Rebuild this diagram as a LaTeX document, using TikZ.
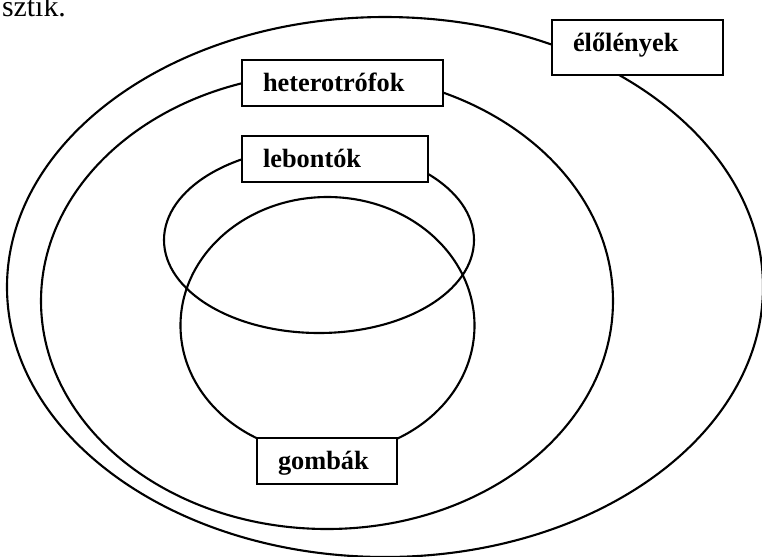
\documentclass[tikz,border=0pt]{standalone}
\usepackage{fontspec}
\setmainfont{Liberation Serif}
\usepackage{tikz}
\tikzset{
  namebox/.style={draw, fill=white, line width=1.2pt, align=left,
    font=\fontsize{15}{18}\selectfont\bfseries,
    text height=0.94em, text depth=0pt,
    inner xsep=0.42cm, minimum height=0.92cm}
}

\begin{document}
\begin{tikzpicture}[x=0.02cm, y=0.02cm, line width=1.2pt]

  \useasboundingbox (0, 0) rectangle (762, -556);

  \node[anchor=base west, inner sep=0, font=\fontsize{17}{20}\selectfont] (sztik) at (1, -16.7) {sztik.};

  % halmazok
  \draw (385, -287) ellipse (378 and 270);
  \draw (327, -301) ellipse (286 and 228);
  \draw (319, -240) ellipse (155 and 93);
  \draw (327.5, -325.5) ellipse (147 and 128.5);

  % feliratok
  \node[namebox, text width=2.58cm, minimum height=1.1cm, text height=0.66em, text depth=0.26em] (elolenyek) at (637.5, -47.5) {élőlények};
  \node[namebox, text width=3.18cm] (heterotrofok) at (342.5, -83) {heterotrófok};
  \node[namebox, text width=2.88cm] (lebontok) at (335, -159) {lebontók};
  \node[namebox, text width=1.96cm] (gombak) at (327, -461) {gombák};

\end{tikzpicture}
\end{document}
